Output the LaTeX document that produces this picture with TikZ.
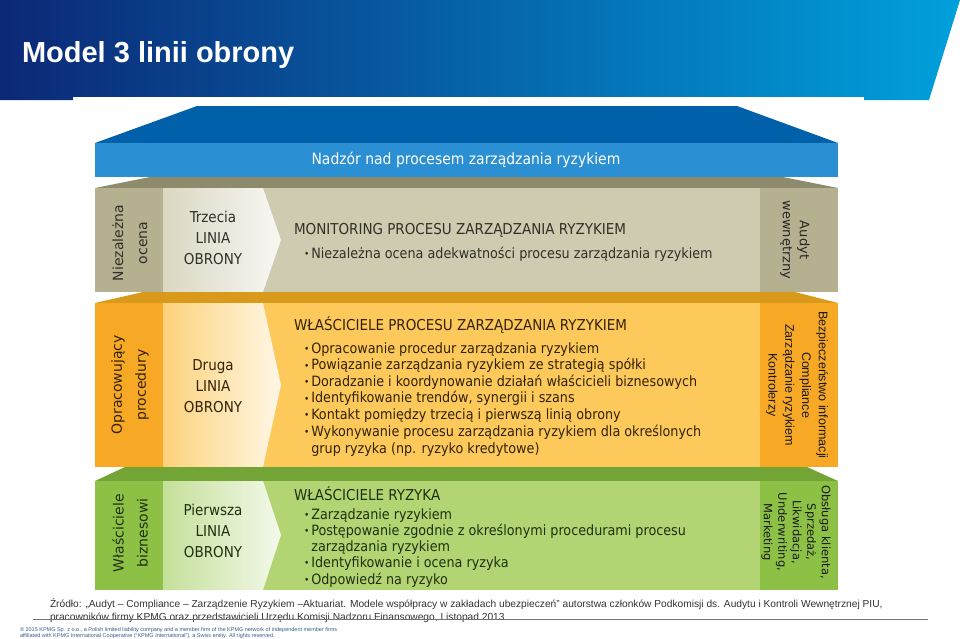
\documentclass[tikz,border=0pt]{standalone}
\usepackage{fontspec}
\setmainfont{Liberation Sans}
\newfontfamily\dinfont{DejaVu Sans Condensed}
\newfontfamily\sidefont{DejaVu Sans}
\usetikzlibrary{positioning}

\definecolor{bannerL}{RGB}{12,40,118}
\definecolor{bannerM}{RGB}{0,62,150}
\definecolor{bannerR}{RGB}{0,160,220}
\definecolor{nadzorTop}{RGB}{1,96,170}
\definecolor{nadzorFront}{RGB}{43,143,211}
\definecolor{szaryTop}{RGB}{142,139,108}
\definecolor{szaryMain}{RGB}{207,203,176}
\definecolor{szaryBok}{RGB}{180,176,144}
\definecolor{szaryStrz}{RGB}{218,215,194}
\definecolor{szaryTekst}{RGB}{48,48,40}
\definecolor{pomTop}{RGB}{217,154,28}
\definecolor{pomMain}{RGB}{253,201,90}
\definecolor{pomBok}{RGB}{247,168,36}
\definecolor{pomStrz}{RGB}{252,210,122}
\definecolor{pomTekst}{RGB}{50,34,8}
\definecolor{zielTop}{RGB}{114,165,53}
\definecolor{zielMain}{RGB}{179,212,114}
\definecolor{zielBok}{RGB}{141,193,70}
\definecolor{zielStrz}{RGB}{197,224,154}
\definecolor{zielTekst}{RGB}{32,48,16}
\definecolor{kpmgTekst}{RGB}{58,90,138}

\newcommand{\pkt}{{\fontsize{10}{10}\selectfont\raisebox{0.6pt}{•}}\hspace{2pt}}

\begin{document}
\begin{tikzpicture}[x=1pt, y=-1pt,
    every node/.style={inner sep=0pt, outer sep=0pt},
    tytul/.style={font=\bfseries\fontsize{29}{32}\selectfont, text=white, anchor=base west},
    nadzor/.style={font=\dinfont\fontsize{15.5}{17}\selectfont, text=white},
    naglowek/.style={font=\dinfont\fontsize{15}{17}\selectfont, anchor=base west},
    punkt/.style={font=\dinfont\fontsize{14.2}{16}\selectfont, anchor=base west},
    linia/.style={font=\dinfont\fontsize{15}{21}\selectfont, align=center},
    lewy/.style={font=\sidefont\fontsize{14}{24}\selectfont, align=center, rotate=90},
    prawy/.style={align=center, rotate=-90},
    zrodlo/.style={font=\fontsize{10.2}{12}\selectfont, text=black!80, anchor=base west},
    kpmg/.style={font=\fontsize{5.5}{6}\selectfont, text=kpmgTekst, anchor=base west}
]
\useasboundingbox (0,0) rectangle (960,638);

% naglowek slajdu
\shade[left color=bannerL, middle color=bannerM, right color=bannerR]
    (0,0) -- (960,0) -- (929,100) -- (0,100) -- cycle;
\fill[white] (73,97) rectangle (864,101);
\node[tytul] (tytul) at (22,62) {Model 3 linii obrony};

% nadzor
\fill[nadzorTop] (95,143) -- (197,106) -- (737,106) -- (838,143) -- cycle;
\fill[nadzorFront] (95,143) rectangle (838,177);
\node[nadzor] (nadzor) at (466,160) {Nadzór nad procesem zarządzania ryzykiem};

% trzecia linia
\fill[szaryTop] (95,188) -- (150,177) -- (783,177) -- (838,188) -- cycle;
\fill[szaryMain] (95,188) rectangle (838,292);
\fill[szaryBok] (95,188) rectangle (163,292);
\fill[szaryBok] (760,188) rectangle (838,292);
\shade[left color=szaryStrz, right color=white!85!szaryMain]
    (163,188) -- (263,188) -- (281,240) -- (263,292) -- (163,292) -- cycle;
\node[lewy, text=szaryTekst] (niezalezna) at (130,243) {Niezależna\\ocena};
\node[linia, text=szaryTekst] (trzecia) at (213,238) {Trzecia\\LINIA\\OBRONY};
\node[naglowek, text=szaryTekst] (monitoring) at (294,234) {MONITORING PROCESU ZARZĄDZANIA RYZYKIEM};
\node[punkt, text=szaryTekst] (ocena) at (304,258) {\pkt Niezależna ocena adekwatności procesu zarządzania ryzykiem};
\node[prawy, font=\sidefont\fontsize{13}{17}\selectfont, text=black!85] (audyt) at (795,240) {Audyt\\wewnętrzny};

% druga linia
\fill[pomTop] (95,303) -- (143,292) -- (795,292) -- (838,303) -- cycle;
\fill[pomMain] (95,303) rectangle (838,467);
\fill[pomBok] (95,303) rectangle (163,467);
\fill[pomBok] (760,303) rectangle (838,467);
\shade[left color=pomStrz, right color=white!85!pomMain]
    (163,303) -- (263,303) -- (281,385) -- (263,467) -- (163,467) -- cycle;
\node[lewy, text=pomTekst] (opracowujacy) at (130,385) {Opracowujący\\procedury};
\node[linia, text=pomTekst] (druga) at (213,386) {Druga\\LINIA\\OBRONY};
\node[naglowek, text=pomTekst] (wlasciciele proc) at (294,330) {WŁAŚCICIELE PROCESU ZARZĄDZANIA RYZYKIEM};
\foreach \tekst [count=\i from 0] in {Opracowanie procedur zarządzania ryzykiem,
    Powiązanie zarządzania ryzykiem ze strategią spółki,
    Doradzanie i koordynowanie działań właścicieli biznesowych,
    {Identyfikowanie trendów, synergii i szans},
    Kontakt pomiędzy trzecią i pierwszą linią obrony,
    Wykonywanie procesu zarządzania ryzykiem dla określonych}
  \node[punkt, text=pomTekst] (druga\i) at (304,353+16.6*\i) {\pkt\tekst};
\node[punkt, text=pomTekst] (druga6) at (304,453) {\hphantom{\pkt}grup ryzyka (np. ryzyko kredytowe)};
\node[prawy, font=\fontsize{12.5}{16.7}\selectfont, text=black!90] (bezpieczenstwo) at (797,385)
    {Bezpieczeństwo informacji\\Compliance\\Zarządzanie ryzykiem\\Kontrolerzy};

% pierwsza linia
\fill[zielTop] (95,481) -- (125,467) -- (807,467) -- (838,481) -- cycle;
\fill[zielMain] (95,481) rectangle (838,590);
\fill[zielBok] (95,481) rectangle (163,590);
\fill[zielBok] (760,481) rectangle (838,590);
\shade[left color=zielStrz, right color=white!85!zielMain]
    (163,481) -- (263,481) -- (281,535) -- (263,590) -- (163,590) -- cycle;
\node[lewy, text=zielTekst] (biznesowi) at (130,533) {Właściciele\\biznesowi};
\node[linia, text=zielTekst] (pierwsza) at (213,531) {Pierwsza\\LINIA\\OBRONY};
\node[naglowek, text=zielTekst] (wlasciciele ryz) at (294,500) {WŁAŚCICIELE RYZYKA};
\node[punkt, text=zielTekst] (pierwsza0) at (304,519) {\pkt Zarządzanie ryzykiem};
\node[punkt, text=zielTekst] (pierwsza1) at (304,535.5) {\pkt Postępowanie zgodnie z określonymi procedurami procesu};
\node[punkt, text=zielTekst] (pierwsza2) at (304,551) {\hphantom{\pkt}zarządzania ryzykiem};
\node[punkt, text=zielTekst] (pierwsza3) at (304,567.5) {\pkt Identyfikowanie i ocena ryzyka};
\node[punkt, text=zielTekst] (pierwsza4) at (304,584) {\pkt Odpowiedź na ryzyko};
\node[prawy, font=\sidefont\fontsize{11.5}{14.5}\selectfont, text=black!90] (obsluga) at (796,532)
    {Obsługa klienta,\\Sprzedaż,\\Likwidacja,\\Underwriting,\\Marketing};

% zrodlo i stopka
\node[zrodlo] (zrodlo1) at (50,607) {Źródło: „Audyt – Compliance – Zarządzenie Ryzykiem –Aktuariat. Modele współpracy w zakładach ubezpieczeń” autorstwa członków Podkomisji ds. Audytu i Kontroli Wewnętrznej PIU,};
\node[zrodlo] (zrodlo2) at (50,620) {pracowników firmy KPMG oraz przedstawicieli Urzędu Komisji Nadzoru Finansowego, Listopad 2013};
\draw[black!55, line width=0.7pt] (33,619) -- (928,619);
\node[kpmg] (kpmg1) at (20,631) {© 2015 KPMG Sp. z o.o., a Polish limited liability company and a member firm of the KPMG network of independent member firms};
\node[kpmg] (kpmg2) at (20,637) {affiliated with KPMG International Cooperative (“KPMG International”), a Swiss entity. All rights reserved.};
\end{tikzpicture}
\end{document}
